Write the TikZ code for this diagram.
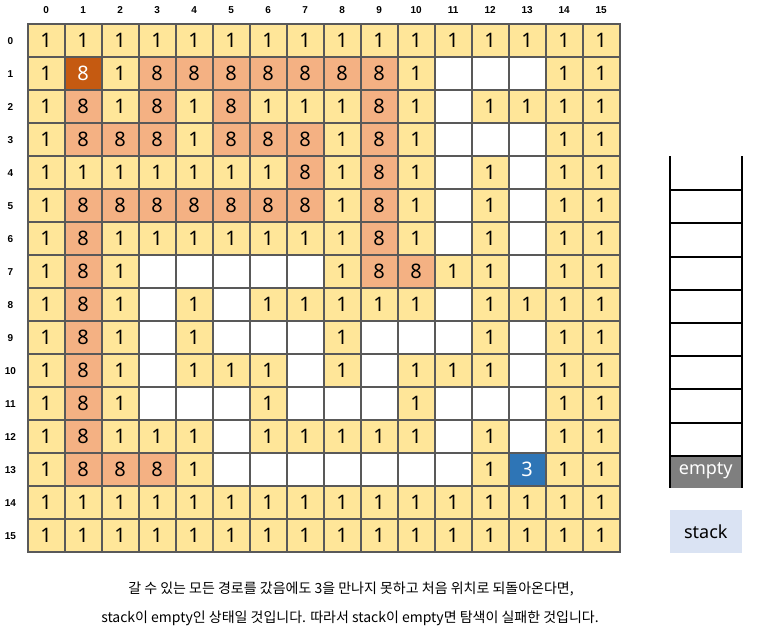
\documentclass[tikz,border=0pt]{standalone}
\usepackage{fontspec}
\setmainfont{Noto Sans}
\newfontfamily\kor{Noto Sans CJK KR}
\newfontfamily\headfont{Liberation Sans}
\usepackage{tikz}
\definecolor{gridLine}{HTML}{595959}
\definecolor{wallFill}{HTML}{FFE699}
\definecolor{pathFill}{HTML}{F4B183}
\definecolor{startFill}{HTML}{C55A11}
\definecolor{goalFill}{HTML}{2E75B6}
\definecolor{emptyGray}{HTML}{7F7F7F}
\definecolor{tagFill}{HTML}{DAE3F3}
\tikzstyle{mazeCell}=[shape = rectangle, minimum width = 37pt, minimum height = 33pt, inner sep = 0pt, outer sep = 0pt, draw = gridLine, line width = 2pt, font = \fontsize{20}{24}\selectfont]
\tikzstyle{cell0}=[mazeCell, fill = white]
\tikzstyle{cell1}=[mazeCell, fill = wallFill]
\tikzstyle{cell8}=[mazeCell, fill = pathFill]
\tikzstyle{cell9}=[mazeCell, fill = startFill, text = white]
\tikzstyle{cell3}=[mazeCell, fill = goalFill, text = white]
\newcommand{\cellText}[1]{\ifnum#1=0 \else\ifnum#1=9 8\else#1\fi\fi}

\begin{document}
\begin{tikzpicture}[x = 1pt, y = -1pt]
\tikzstyle{headStyle}=[font = \headfont\bfseries\fontsize{10}{12}\selectfont, inner sep = 0pt]
\tikzstyle{stackLine}=[line width = 2pt, line cap = rect]
\tikzstyle{emptyBox}=[shape = rectangle, minimum width = 71.6pt, minimum height = 33pt, inner sep = 0pt, fill = emptyGray, text = white, font = \fontsize{18}{22}\selectfont]
\tikzstyle{stackTag}=[shape = rectangle, minimum width = 71.6pt, minimum height = 43pt, inner sep = 0pt, fill = tagFill, font = \fontsize{18}{22}\selectfont]
\tikzstyle{captionStyle}=[inner sep = 0pt, font = \kor\fontsize{14}{17}\selectfont]
\useasboundingbox (0,0) rectangle (757,641);
\foreach \c in {0,...,15}
  \node[headStyle] (col\c) at (46.2+37*\c, 10) {\c};
\foreach \r in {0,...,15}
  \node[headStyle] (row\r) at (10.5, 40.8+33*\r) {\r};
% 0 open, 1 wall, 8 visited, 9 start, 3 goal
\foreach \line [count = \r from 0] in {
  {1,1,1,1,1,1,1,1,1,1,1,1,1,1,1,1},
  {1,9,1,8,8,8,8,8,8,8,1,0,0,0,1,1},
  {1,8,1,8,1,8,1,1,1,8,1,0,1,1,1,1},
  {1,8,8,8,1,8,8,8,1,8,1,0,0,0,1,1},
  {1,1,1,1,1,1,1,8,1,8,1,0,1,0,1,1},
  {1,8,8,8,8,8,8,8,1,8,1,0,1,0,1,1},
  {1,8,1,1,1,1,1,1,1,8,1,0,1,0,1,1},
  {1,8,1,0,0,0,0,0,1,8,8,1,1,0,1,1},
  {1,8,1,0,1,0,1,1,1,1,1,0,1,1,1,1},
  {1,8,1,0,1,0,0,0,1,0,0,0,1,0,1,1},
  {1,8,1,0,1,1,1,0,1,0,1,1,1,0,1,1},
  {1,8,1,0,0,0,1,0,0,0,1,0,0,0,1,1},
  {1,8,1,1,1,0,1,1,1,1,1,0,1,0,1,1},
  {1,8,8,8,1,0,0,0,0,0,0,0,1,3,1,1},
  {1,1,1,1,1,1,1,1,1,1,1,1,1,1,1,1},
  {1,1,1,1,1,1,1,1,1,1,1,1,1,1,1,1}}
  \foreach \v [count = \c from 0] in \line
    \node[cell\v] (v\r-\c) at (46.2+37*\c, 40.8+33*\r) {\cellText{\v}};
% stack
\node[emptyBox] (bottom) at (705.8, 471) {empty};
\foreach \k in {1,...,9}
  \draw[stackLine] (670, 157+33.2*\k) -- (741.6, 157+33.2*\k);
\draw[stackLine] (670, 157) -- (670, 487) (741.6, 157) -- (741.6, 487);
\node[stackTag] (tag) at (705.8, 531.5) {stack};
\node[captionStyle] (line1) at (351, 589) {갈 수 있는 모든 경로를 갔음에도 3을 만나지 못하고 처음 위치로 되돌아온다면,};
\node[captionStyle] (line2) at (350, 618) {stack이 empty인 상태일 것입니다. 따라서 stack이 empty면 탐색이 실패한 것입니다.};
\end{tikzpicture}
\end{document}
